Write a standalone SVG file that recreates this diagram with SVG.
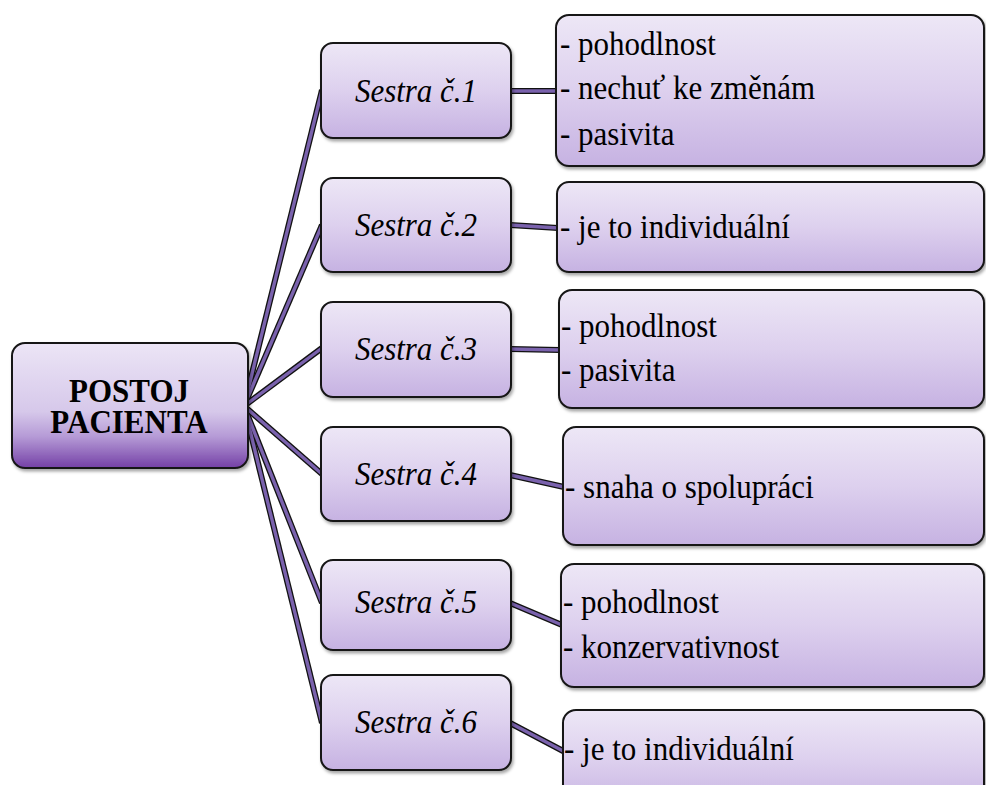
<svg xmlns="http://www.w3.org/2000/svg" width="986" height="785" viewBox="0 0 986 785">
  <defs>
    <linearGradient id="gNode" x1="0" y1="0" x2="0" y2="1">
      <stop offset="0" stop-color="#ede7f6"/>
      <stop offset="0.5" stop-color="#ddd0ee"/>
      <stop offset="1" stop-color="#c6b2e2"/>
    </linearGradient>
    <linearGradient id="gRoot" x1="0" y1="0" x2="0" y2="1">
      <stop offset="0" stop-color="#ece5f6"/>
      <stop offset="0.55" stop-color="#d6c8ea"/>
      <stop offset="0.75" stop-color="#b59ad6"/>
      <stop offset="1" stop-color="#7440a6"/>
    </linearGradient>
    <filter id="shadow" x="-10%" y="-10%" width="120%" height="130%">
      <feDropShadow dx="1.5" dy="2.5" stdDeviation="1.5" flood-color="#000" flood-opacity="0.35"/>
    </filter>
  </defs>
  <style>
    .box { fill: url(#gNode); stroke: #151515; stroke-width: 2; filter: url(#shadow); }
    .root { fill: url(#gRoot); stroke: #151515; stroke-width: 2; filter: url(#shadow); }
    .lbl { font-family: "Liberation Serif", "Times New Roman", serif; font-size: 31px; fill: #000; }
    .it { font-style: italic; text-anchor: middle; }
    .bold { font-weight: bold; text-anchor: middle; }
    .edge-out { stroke: #111; stroke-width: 6; stroke-linecap: butt; fill: none; }
    .edge-in { stroke: #7a62ad; stroke-width: 3.4; stroke-linecap: butt; fill: none; }
  </style>

  <rect width="986" height="785" fill="#ffffff"/>

  <!-- connectors: dark outline drawn first, purple core on top -->
  <g id="connectors">
    <g class="edge-out">
      <line x1="244" y1="406" x2="322" y2="90"/>
      <line x1="244" y1="406" x2="322" y2="225"/>
      <line x1="244" y1="406" x2="322" y2="348"/>
      <line x1="244" y1="406" x2="322" y2="474"/>
      <line x1="244" y1="406" x2="322" y2="603"/>
      <line x1="244" y1="406" x2="322" y2="723"/>
      <line x1="510" y1="91" x2="558" y2="91"/>
      <line x1="510" y1="225" x2="558" y2="228"/>
      <line x1="510" y1="349" x2="560" y2="350"/>
      <line x1="510" y1="475" x2="564" y2="487"/>
      <line x1="510" y1="603" x2="562" y2="625"/>
      <line x1="510" y1="723" x2="565" y2="752"/>
    </g>
    <g class="edge-in">
      <line x1="244" y1="406" x2="322" y2="90"/>
      <line x1="244" y1="406" x2="322" y2="225"/>
      <line x1="244" y1="406" x2="322" y2="348"/>
      <line x1="244" y1="406" x2="322" y2="474"/>
      <line x1="244" y1="406" x2="322" y2="603"/>
      <line x1="244" y1="406" x2="322" y2="723"/>
      <line x1="510" y1="91" x2="558" y2="91"/>
      <line x1="510" y1="225" x2="558" y2="228"/>
      <line x1="510" y1="349" x2="560" y2="350"/>
      <line x1="510" y1="475" x2="564" y2="487"/>
      <line x1="510" y1="603" x2="562" y2="625"/>
      <line x1="510" y1="723" x2="565" y2="752"/>
    </g>
  </g>

  <!-- central node -->
  <g id="root">
    <rect class="root" x="12" y="343" width="236" height="125" rx="13"/>
    <text class="lbl bold" transform="translate(129 402) scale(1 1.12)">POSTOJ</text>
    <text class="lbl bold" transform="translate(129 433) scale(1 1.12)">PACIENTA</text>
  </g>

  <!-- nurse nodes -->
  <g id="sestra1">
    <rect class="box" x="321" y="43" width="190" height="95" rx="12"/>
    <text class="lbl it" transform="translate(416 102) scale(1 1.12)">Sestra č.1</text>
  </g>
  <g id="sestra2">
    <rect class="box" x="321" y="178" width="190" height="94" rx="12"/>
    <text class="lbl it" transform="translate(416 236) scale(1 1.12)">Sestra č.2</text>
  </g>
  <g id="sestra3">
    <rect class="box" x="321" y="302" width="190" height="95" rx="12"/>
    <text class="lbl it" transform="translate(416 360) scale(1 1.12)">Sestra č.3</text>
  </g>
  <g id="sestra4">
    <rect class="box" x="321" y="427" width="190" height="94" rx="12"/>
    <text class="lbl it" transform="translate(416 485) scale(1 1.12)">Sestra č.4</text>
  </g>
  <g id="sestra5">
    <rect class="box" x="321" y="560" width="190" height="90" rx="12"/>
    <text class="lbl it" transform="translate(416 613) scale(1 1.12)">Sestra č.5</text>
  </g>
  <g id="sestra6">
    <rect class="box" x="321" y="675" width="190" height="95" rx="12"/>
    <text class="lbl it" transform="translate(416 733) scale(1 1.12)">Sestra č.6</text>
  </g>

  <!-- attitude nodes -->
  <g id="postoj1">
    <rect class="box" x="556" y="15" width="428" height="151" rx="13"/>
    <text class="lbl" transform="translate(560 55) scale(1 1.12)">- pohodlnost</text>
    <text class="lbl" transform="translate(560 99) scale(1 1.12)">- nechuť ke změnám</text>
    <text class="lbl" transform="translate(560 145) scale(1 1.12)">- pasivita</text>
  </g>
  <g id="postoj2">
    <rect class="box" x="557" y="182" width="427" height="90" rx="12"/>
    <text class="lbl" transform="translate(560 238) scale(1 1.12)">- je to individuální</text>
  </g>
  <g id="postoj3">
    <rect class="box" x="559" y="290" width="425" height="118" rx="13"/>
    <text class="lbl" transform="translate(561 337) scale(1 1.12)">- pohodlnost</text>
    <text class="lbl" transform="translate(561 381) scale(1 1.12)">- pasivita</text>
  </g>
  <g id="postoj4">
    <rect class="box" x="563" y="427" width="421" height="118" rx="13"/>
    <text class="lbl" transform="translate(565 498) scale(1 1.12)">- snaha o spolupráci</text>
  </g>
  <g id="postoj5">
    <rect class="box" x="561" y="564" width="423" height="123" rx="13"/>
    <text class="lbl" transform="translate(563 613) scale(1 1.12)">- pohodlnost</text>
    <text class="lbl" transform="translate(563 658) scale(1 1.12)">- konzervativnost</text>
  </g>
  <g id="postoj6">
    <rect class="box" x="563" y="710" width="421" height="100" rx="13"/>
    <text class="lbl" transform="translate(564 760) scale(1 1.12)">- je to individuální</text>
  </g>
</svg>
